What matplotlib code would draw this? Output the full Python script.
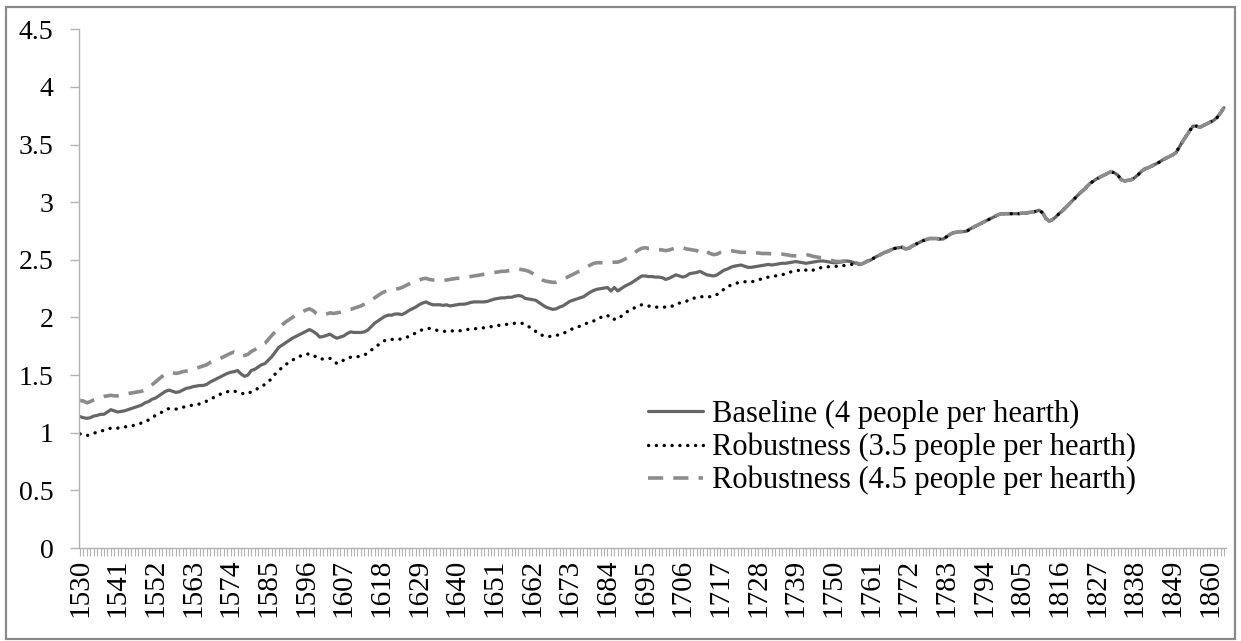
import matplotlib
matplotlib.use("Agg")
import matplotlib.pyplot as plt
from matplotlib.patches import Rectangle
from matplotlib.ticker import FixedLocator, MultipleLocator

plt.rcParams['font.family'] = ['Liberation Serif', 'DejaVu Serif']

years = list(range(1530, 1865))

# 1530-1757: the three hearth-size assumptions still differ
baseline_early = [
    1.14, 1.13, 1.125, 1.13, 1.145, 1.15, 1.16, 1.16, 1.18, 1.20,
    1.19, 1.18, 1.185, 1.19, 1.20, 1.21, 1.22, 1.23, 1.24, 1.26,
    1.27, 1.29, 1.30, 1.32, 1.34, 1.36, 1.37, 1.36, 1.35, 1.355,
    1.37, 1.385, 1.39, 1.40, 1.405, 1.41, 1.41, 1.42, 1.44, 1.455,
    1.47, 1.485, 1.50, 1.515, 1.525, 1.53, 1.54, 1.51, 1.49, 1.50,
    1.54, 1.55, 1.57, 1.59, 1.60, 1.63, 1.66, 1.70, 1.74, 1.76,
    1.78, 1.80, 1.82, 1.835, 1.85, 1.865, 1.88, 1.895, 1.88, 1.86,
    1.83, 1.835, 1.845, 1.855, 1.835, 1.82, 1.83, 1.84, 1.86, 1.875,
    1.87, 1.87, 1.87, 1.875, 1.89, 1.92, 1.95, 1.97, 1.99, 2.01,
    2.02, 2.02, 2.03, 2.03, 2.025, 2.04, 2.06, 2.075, 2.09, 2.11,
    2.125, 2.135, 2.12, 2.11, 2.11, 2.11, 2.105, 2.11, 2.10, 2.105,
    2.11, 2.115, 2.115, 2.12, 2.13, 2.135, 2.135, 2.135, 2.135, 2.14,
    2.15, 2.16, 2.165, 2.17, 2.17, 2.175, 2.175, 2.185, 2.19, 2.185,
    2.165, 2.16, 2.155, 2.15, 2.13, 2.11, 2.09, 2.08, 2.07, 2.075,
    2.09, 2.10, 2.12, 2.14, 2.15, 2.16, 2.17, 2.18, 2.20, 2.22,
    2.235, 2.245, 2.25, 2.255, 2.26, 2.23, 2.26, 2.23, 2.25, 2.27,
    2.285, 2.30, 2.32, 2.34, 2.36, 2.36, 2.355, 2.355, 2.35, 2.35,
    2.345, 2.33, 2.34, 2.355, 2.37, 2.36, 2.35, 2.36, 2.38, 2.385,
    2.39, 2.40, 2.385, 2.37, 2.365, 2.36, 2.37, 2.39, 2.41, 2.42,
    2.435, 2.445, 2.45, 2.455, 2.445, 2.435, 2.435, 2.44, 2.445, 2.45,
    2.455, 2.46, 2.455, 2.46, 2.465, 2.47, 2.47, 2.475, 2.48, 2.485,
    2.48, 2.475, 2.47, 2.475, 2.48, 2.485, 2.49, 2.49, 2.485, 2.48,
    2.475, 2.475, 2.48, 2.485, 2.49, 2.485, 2.475, 2.465,
]

low_early = [
    0.99, 0.98, 0.975, 0.985, 0.995, 1.005, 1.015, 1.02, 1.03, 1.04,
    1.04, 1.04, 1.045, 1.05, 1.055, 1.06, 1.065, 1.075, 1.085, 1.10,
    1.11, 1.13, 1.15, 1.165, 1.18, 1.20, 1.21, 1.205, 1.205, 1.21,
    1.22, 1.23, 1.235, 1.24, 1.245, 1.25, 1.26, 1.275, 1.29, 1.305,
    1.32, 1.335, 1.35, 1.355, 1.365, 1.36, 1.355, 1.345, 1.335, 1.34,
    1.355, 1.37, 1.385, 1.40, 1.42, 1.44, 1.475, 1.51, 1.54, 1.565,
    1.59, 1.61, 1.63, 1.645, 1.66, 1.675, 1.68, 1.685, 1.675, 1.655,
    1.64, 1.64, 1.645, 1.645, 1.625, 1.60, 1.615, 1.63, 1.645, 1.655,
    1.66, 1.66, 1.665, 1.675, 1.69, 1.715, 1.74, 1.76, 1.785, 1.80,
    1.81, 1.81, 1.81, 1.81, 1.815, 1.825, 1.835, 1.85, 1.865, 1.88,
    1.895, 1.90, 1.905, 1.90, 1.89, 1.885, 1.88, 1.88, 1.88, 1.885,
    1.885, 1.885, 1.89, 1.895, 1.90, 1.90, 1.905, 1.91, 1.91, 1.915,
    1.92, 1.925, 1.93, 1.935, 1.94, 1.94, 1.945, 1.95, 1.95, 1.95,
    1.935, 1.92, 1.905, 1.88, 1.855, 1.845, 1.835, 1.835, 1.84, 1.845,
    1.85, 1.86, 1.875, 1.89, 1.905, 1.915, 1.925, 1.94, 1.95, 1.96,
    1.97, 1.985, 2.00, 2.01, 2.02, 1.985, 1.985, 1.985, 2.01, 2.035,
    2.055, 2.07, 2.085, 2.10, 2.11, 2.11, 2.10, 2.09, 2.09, 2.09,
    2.09, 2.09, 2.09, 2.10, 2.115, 2.125, 2.13, 2.14, 2.155, 2.165,
    2.175, 2.18, 2.18, 2.18, 2.18, 2.185, 2.20, 2.22, 2.245, 2.265,
    2.28, 2.29, 2.30, 2.305, 2.31, 2.31, 2.31, 2.315, 2.325, 2.335,
    2.345, 2.35, 2.355, 2.36, 2.365, 2.37, 2.38, 2.39, 2.40, 2.405,
    2.41, 2.42, 2.41, 2.40, 2.41, 2.425, 2.43, 2.435, 2.44, 2.44,
    2.44, 2.445, 2.445, 2.45, 2.455, 2.46, 2.46, 2.46,
]

high_early = [
    1.28, 1.275, 1.26, 1.27, 1.285, 1.295, 1.305, 1.315, 1.32, 1.325,
    1.32, 1.32, 1.325, 1.33, 1.34, 1.345, 1.35, 1.355, 1.36, 1.37,
    1.39, 1.415, 1.44, 1.465, 1.49, 1.51, 1.52, 1.52, 1.515, 1.52,
    1.53, 1.535, 1.54, 1.55, 1.56, 1.57, 1.58, 1.59, 1.61, 1.625,
    1.64, 1.645, 1.66, 1.675, 1.69, 1.70, 1.69, 1.665, 1.67, 1.68,
    1.705, 1.72, 1.74, 1.755, 1.775, 1.81, 1.845, 1.875, 1.905, 1.935,
    1.96, 1.98, 2.00, 2.02, 2.035, 2.05, 2.065, 2.075, 2.06, 2.035,
    2.02, 2.02, 2.03, 2.04, 2.035, 2.04, 2.045, 2.05, 2.06, 2.07,
    2.08, 2.09, 2.10, 2.115, 2.13, 2.15, 2.17, 2.19, 2.21, 2.225,
    2.23, 2.24, 2.245, 2.25, 2.26, 2.275, 2.29, 2.305, 2.315, 2.325,
    2.335, 2.34, 2.33, 2.325, 2.325, 2.325, 2.32, 2.325, 2.33, 2.335,
    2.34, 2.34, 2.345, 2.35, 2.355, 2.36, 2.365, 2.37, 2.375, 2.38,
    2.385, 2.39, 2.395, 2.40, 2.40, 2.405, 2.41, 2.415, 2.42, 2.415,
    2.41, 2.40, 2.385, 2.365, 2.345, 2.325, 2.315, 2.31, 2.305, 2.305,
    2.315, 2.33, 2.345, 2.36, 2.375, 2.39, 2.405, 2.42, 2.44, 2.455,
    2.47, 2.475, 2.475, 2.475, 2.48, 2.475, 2.48, 2.48, 2.49, 2.505,
    2.52, 2.54, 2.565, 2.585, 2.60, 2.605, 2.60, 2.60, 2.595, 2.59,
    2.585, 2.58, 2.585, 2.595, 2.605, 2.61, 2.605, 2.595, 2.59, 2.585,
    2.58, 2.565, 2.585, 2.57, 2.555, 2.545, 2.55, 2.565, 2.575, 2.58,
    2.58, 2.575, 2.57, 2.565, 2.565, 2.565, 2.56, 2.56, 2.56, 2.555,
    2.555, 2.555, 2.55, 2.55, 2.55, 2.55, 2.545, 2.54, 2.535, 2.535,
    2.535, 2.54, 2.545, 2.54, 2.53, 2.525, 2.52, 2.52, 2.51, 2.50,
    2.49, 2.485, 2.485, 2.49, 2.495, 2.49, 2.48, 2.47,
]

# 1758-1864: all three series coincide
common_late = [
    2.46, 2.475,
    2.49, 2.50, 2.52, 2.535, 2.55, 2.565, 2.575, 2.59, 2.60, 2.605,
    2.61, 2.595, 2.60, 2.62, 2.635, 2.65, 2.665, 2.675, 2.685, 2.685,
    2.685, 2.68, 2.68, 2.70, 2.72, 2.735, 2.74, 2.745, 2.745, 2.75,
    2.77, 2.785, 2.80, 2.815, 2.83, 2.845, 2.86, 2.875, 2.89, 2.90,
    2.90, 2.90, 2.90, 2.90, 2.90, 2.905, 2.905, 2.91, 2.915, 2.92,
    2.93, 2.91, 2.86, 2.835, 2.85, 2.875, 2.905, 2.93, 2.96, 2.99,
    3.02, 3.05, 3.08, 3.105, 3.135, 3.165, 3.185, 3.205, 3.22, 3.235,
    3.25, 3.265, 3.255, 3.235, 3.195, 3.185, 3.19, 3.195, 3.215, 3.24,
    3.27, 3.29, 3.30, 3.315, 3.33, 3.345, 3.365, 3.38, 3.395, 3.41,
    3.43, 3.48, 3.53, 3.575, 3.62, 3.66, 3.66, 3.65, 3.665, 3.68,
    3.695, 3.71, 3.735, 3.775, 3.82,
]

baseline = baseline_early + common_late
robust_35 = low_early + common_late
robust_45 = high_early + common_late

labels = ["Baseline (4 people per hearth)",
          "Robustness (3.5 people per hearth)",
          "Robustness (4.5 people per hearth)"]
y_ticks = [0, 0.5, 1, 1.5, 2, 2.5, 3, 3.5, 4, 4.5]
y_ticklabels = ["0", "0.5", "1", "1.5", "2", "2.5", "3", "3.5", "4", "4.5"]
x_labelled = years[::11]

W, H = 1241, 641
fig = plt.figure(figsize=(W / 100, H / 100), dpi=100)
fig.patches.append(Rectangle((6 / W, 2 / H), 1229 / W, 632 / H, transform=fig.transFigure,
                             fill=False, ec="#8a8a8a", lw=1.6))

ax = fig.add_axes([79 / W, (H - 548) / H, (1226 - 79) / W, (548 - 29.3) / H])

ax.plot(years, baseline, color="#666666", lw=2.3, solid_capstyle="round",
        label=labels[0])
ax.plot(years, robust_35, color="black", lw=2.4, ls=(0, (0.05, 2.3)),
        dash_capstyle="round", label=labels[1])
ax.plot(years, robust_45, color="#8c8c8c", lw=2.6, ls=(0, (4.2, 2.8)),
        label=labels[2])

ax.set_xlim(years[0] - 0.3, years[-1] + 0.6)
ax.set_ylim(0, 4.5)
ax.set_yticks(y_ticks)
ax.set_yticklabels(y_ticklabels)
ax.xaxis.set_major_locator(FixedLocator(x_labelled))
ax.set_xticklabels([str(y) for y in x_labelled], rotation=90)
ax.xaxis.set_minor_locator(MultipleLocator(1))

for s in ("top", "right"):
    ax.spines[s].set_visible(False)
for s in ("left", "bottom"):
    ax.spines[s].set_color("#b3b3b3")
    ax.spines[s].set_linewidth(1.0)

ax.tick_params(axis="y", which="major", length=6.5, width=1.0, color="#b3b3b3",
               labelsize=20, pad=12)
ax.tick_params(axis="x", which="both", length=6, width=0.8, color="#b3b3b3",
               direction="out")
ax.tick_params(axis="x", which="major", labelsize=21, pad=1.5)

leg = ax.legend(loc="upper left",
                bbox_to_anchor=((648 - 79) / (1226 - 79), (548 - 400) / (548 - 29.3)),
                frameon=False, fontsize=22, handlelength=1.8, handletextpad=0.3,
                labelspacing=0.12, borderpad=0, borderaxespad=0)

fig.savefig("out.png", dpi=100)
